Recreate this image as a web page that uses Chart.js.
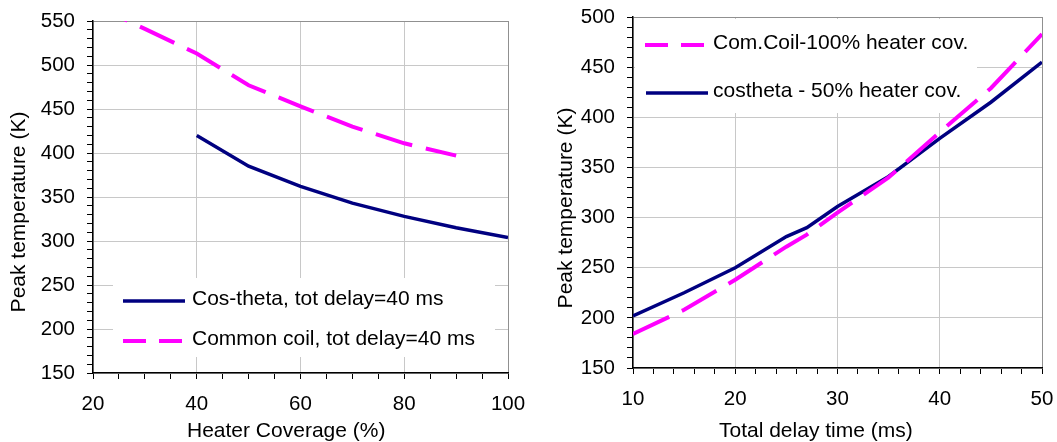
<!DOCTYPE html>
<html>
<head>
<meta charset="utf-8">
<script src="https://cdn.jsdelivr.net/npm/chart.js@4.4.1/dist/chart.umd.min.js"></script>
<style>
  html, body { margin: 0; padding: 0; background: #fff; }
  #wrap { position: relative; width: 1057px; height: 442px; overflow: hidden; }
  canvas { position: absolute; top: 0; }
</style>
</head>
<body>
<div id="wrap">
  <canvas id="left" width="528" height="442" style="left:0"></canvas>
  <canvas id="right" width="529" height="442" style="left:528px"></canvas>
</div>
<script>
// left panel: peak temperature vs heater coverage, tot delay = 40 ms
var coverCos = [40, 50, 60, 70, 80, 90, 100];
var tempCos = [420, 385, 362, 343, 328, 315, 304];
var coverCommon = [20, 30, 40, 50, 60, 70, 80, 90];
var tempCommon = [569, 541, 513, 477, 453, 430, 411, 397];
var leftXLabels = [20, 40, 60, 80, 100];
var leftYLabels = [150, 200, 250, 300, 350, 400, 450, 500, 550];

// right panel: peak temperature vs total delay time
var delayTimes = [10, 15, 20, 25, 27, 30, 35, 40, 45, 50];
var tempComCoil = [184, 208, 238, 271, 283, 305, 340, 385, 429, 483];
var tempCostheta = [202, 225, 250, 281, 290, 311, 341, 379, 415, 455];
var rightXLabels = [10, 20, 30, 40, 50];
var rightYLabels = [150, 200, 250, 300, 350, 400, 450, 500];

var NAVY = '#000080', MAGENTA = '#ff00ff';
var FAMILY = "'Liberation Sans', Arial, sans-serif";
Chart.defaults.font.family = FAMILY;
Chart.defaults.font.size = 20.5;
Chart.defaults.color = '#000';

function pts(xs, ys) {
  return xs.map(function (x, i) { return { x: x, y: ys[i] }; });
}

function gridColor(majors, max) {
  return function (c) {
    var v = c.tick && c.tick.value;
    if (v === max) return '#909090';
    return majors.indexOf(v) >= 0 ? '#c8c8c8' : 'rgba(0,0,0,0)';
  };
}

// white legend box with line samples, and the axis titles
function decor(d) {
  return {
    id: 'decor',
    beforeDatasetsDraw: function (chart) {
      var c = chart.ctx;
      c.save();
      c.fillStyle = '#fff';
      c.fillRect(d.box[0], d.box[1], d.box[2] - d.box[0], d.box[3] - d.box[1]);
      d.items.forEach(function (it) {
        var ds = chart.data.datasets[it.ds];
        c.beginPath();
        c.strokeStyle = ds.borderColor;
        c.lineWidth = ds.borderWidth;
        c.setLineDash(ds.borderDash ? [23, 13] : []);
        c.moveTo(it.x0, it.y);
        c.lineTo(it.x1, it.y);
        c.stroke();
        c.setLineDash([]);
        c.fillStyle = '#000';
        c.font = '21px ' + FAMILY;
        c.textAlign = 'left';
        c.textBaseline = 'middle';
        c.fillText(ds.label, d.textX, it.y - 2);
      });
      c.font = '21px ' + FAMILY;
      c.fillStyle = '#000';
      c.textBaseline = 'alphabetic';
      c.textAlign = 'left';
      c.fillText(d.xTitle, d.xTitleX, 437);
      c.translate(d.yTitleX, d.yTitleY);
      c.rotate(-Math.PI / 2);
      c.textAlign = 'center';
      c.fillText(d.yTitle, 0, 0);
      c.restore();
    }
  };
}

function makeChart(id, datasets, xr, yr, xLabels, yLabels, xStep, yStep, yW, xH, pad, d) {
  return new Chart(document.getElementById(id), {
    type: 'line',
    data: { datasets: datasets },
    options: {
      responsive: false,
      animation: false,
      devicePixelRatio: 1,
      layout: { padding: pad },
      elements: { point: { radius: 0 }, line: { tension: 0 } },
      plugins: { legend: { display: false }, tooltip: { enabled: false } },
      scales: {
        x: {
          type: 'linear', min: xr[0], max: xr[1],
          afterFit: function (s) { s.height = xH; s.paddingLeft = 0; s.paddingRight = 0; },
          border: { color: '#000', width: 1.5 },
          grid: { color: gridColor(xLabels, xr[1]), tickColor: '#000', tickLength: 6 },
          ticks: {
            stepSize: xStep, autoSkip: false, maxRotation: 0, padding: 13,
            callback: function (v) { return xLabels.indexOf(v) >= 0 ? v : ''; }
          }
        },
        y: {
          type: 'linear', min: yr[0], max: yr[1],
          afterFit: function (s) { s.width = yW; s.paddingTop = 0; s.paddingBottom = 0; },
          border: { color: '#000', width: 1.5 },
          grid: { color: gridColor(yLabels, yr[1]), tickColor: '#000', tickLength: 6 },
          ticks: {
            stepSize: yStep, autoSkip: false, padding: 12,
            callback: function (v) { return yLabels.indexOf(v) >= 0 ? v : ''; }
          }
        }
      }
    },
    plugins: [decor(d)]
  });
}

makeChart('left', [
  { label: 'Cos-theta, tot delay=40 ms', data: pts(coverCos, tempCos),
    borderColor: NAVY, borderWidth: 3.5 },
  { label: 'Common coil, tot delay=40 ms', data: pts(coverCommon, tempCommon),
    borderColor: MAGENTA, borderWidth: 4, borderDash: [38, 14] }
], [20, 100], [150, 550], leftXLabels, leftYLabels, 5, 10, 93, 69,
  { top: 21, right: 20, bottom: 0, left: 0 },
  { box: [113, 278, 495, 357], textX: 192,
    items: [{ ds: 0, y: 301, x0: 123, x1: 185 }, { ds: 1, y: 341, x0: 123, x1: 183 }],
    xTitle: 'Heater Coverage (%)', xTitleX: 187,
    yTitle: 'Peak temperature (K)', yTitleX: 25, yTitleY: 212 });

makeChart('right', [
  { label: 'Com.Coil-100% heater cov.', data: pts(delayTimes, tempComCoil),
    borderColor: MAGENTA, borderWidth: 4, borderDash: [40, 14] },
  { label: 'costheta - 50% heater cov.', data: pts(delayTimes, tempCostheta),
    borderColor: NAVY, borderWidth: 3.5 }
], [10, 50], [150, 500], rightXLabels, rightYLabels, 2, 10, 105, 74,
  { top: 17, right: 15, bottom: 0, left: 0 },
  { box: [107, 19, 449, 113], textX: 185,
    items: [{ ds: 0, y: 45, x0: 117, x1: 177 }, { ds: 1, y: 93, x0: 118, x1: 180 }],
    xTitle: 'Total delay time (ms)', xTitleX: 191,
    yTitle: 'Peak temperature (K)', yTitleX: 44, yTitleY: 208 });
</script>
</body>
</html>
